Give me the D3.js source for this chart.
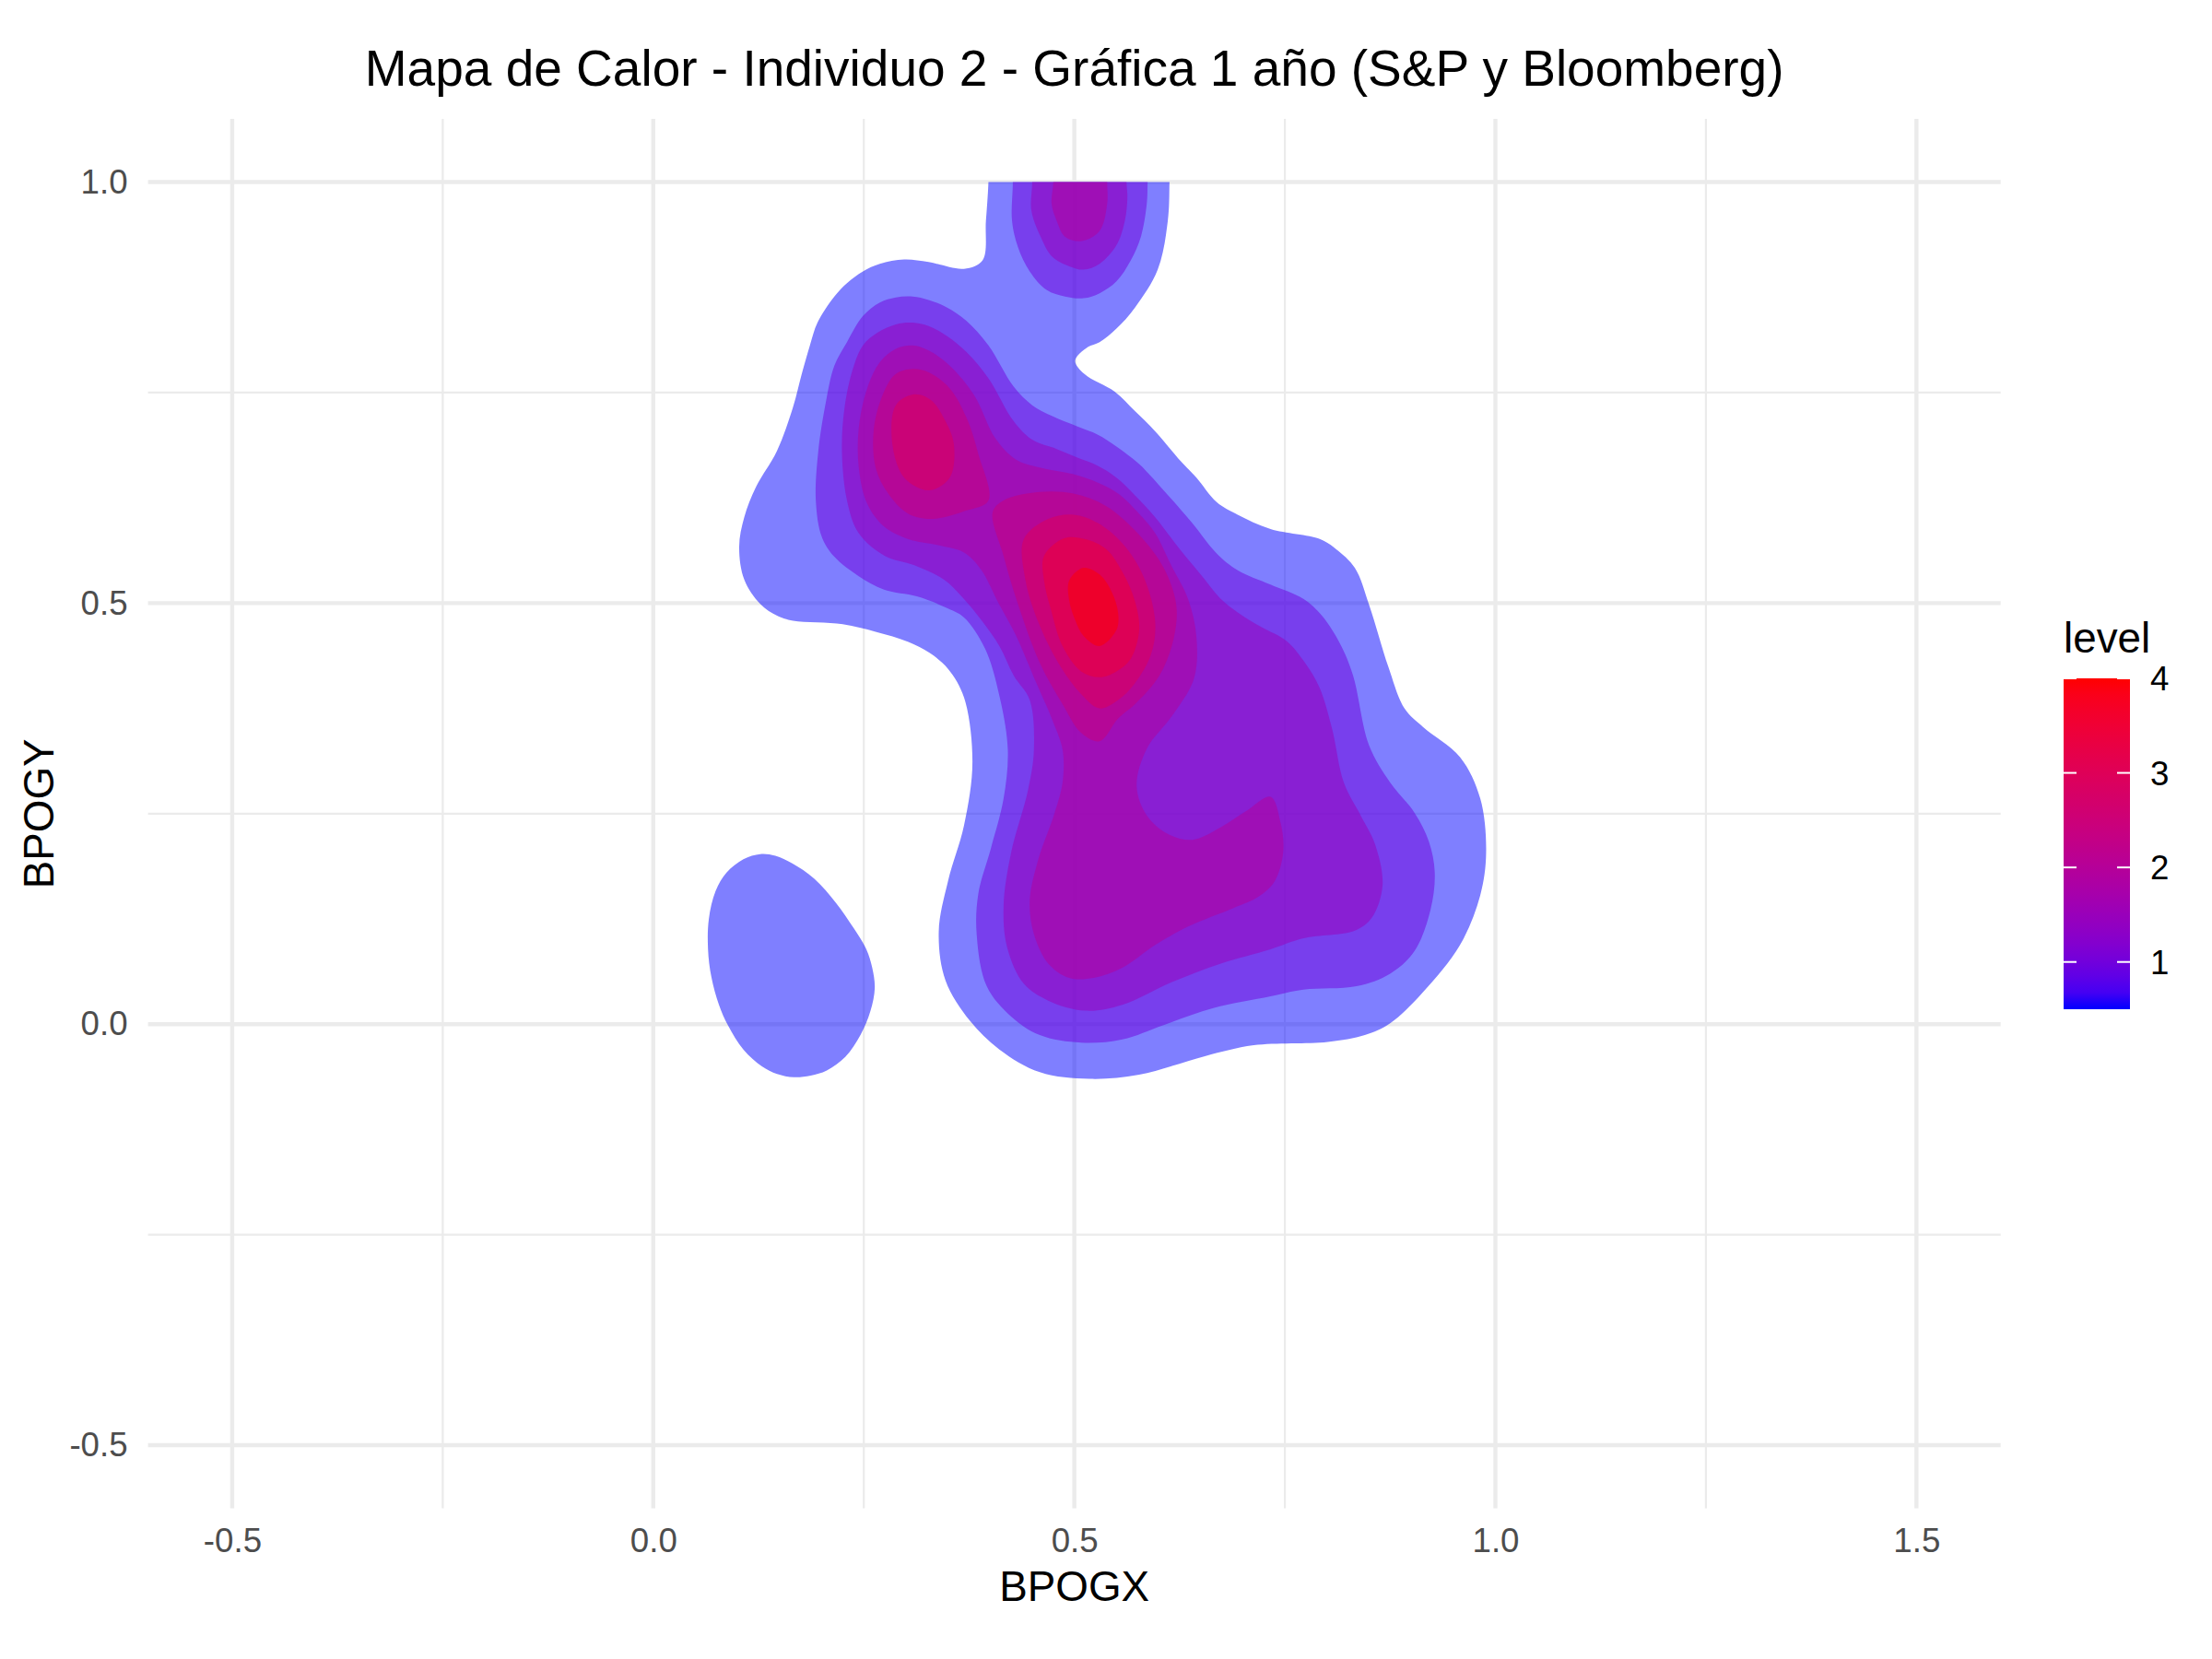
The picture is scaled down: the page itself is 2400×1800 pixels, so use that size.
<!DOCTYPE html>
<html>
<head>
<meta charset="utf-8">
<script src="https://cdn.jsdelivr.net/npm/d3@7"></script>
<style>
  body { margin: 0; background: #fff; }
  text { font-family: "Liberation Sans", Arial, Helvetica, sans-serif; }
</style>
</head>
<body>
<div id="chart"></div>
<script>
// density contours, one outline per level, [BPOGX, BPOGY]
const level05Main = [[0.399,1.06],[0.398,1.0],[0.395,0.954],[0.391,0.907],[0.369,0.897],[0.327,0.905],[0.298,0.908],[0.269,0.903],[0.249,0.894],[0.230,0.880],[0.215,0.864],[0.195,0.833],[0.186,0.806],[0.176,0.771],[0.166,0.733],[0.147,0.681],[0.122,0.638],[0.108,0.602],[0.102,0.567],[0.108,0.528],[0.127,0.499],[0.147,0.485],[0.166,0.479],[0.225,0.475],[0.264,0.466],[0.303,0.454],[0.328,0.441],[0.350,0.422],[0.369,0.388],[0.379,0.312],[0.369,0.236],[0.350,0.170],[0.339,0.110],[0.347,0.052],[0.376,0.004],[0.411,-0.030],[0.459,-0.057],[0.518,-0.065],[0.577,-0.060],[0.655,-0.038],[0.713,-0.025],[0.801,-0.021],[0.845,-0.013],[0.875,0.001],[0.914,0.038],[0.958,0.094],[0.982,0.153],[0.989,0.204],[0.982,0.268],[0.958,0.317],[0.914,0.353],[0.892,0.375],[0.873,0.424],[0.850,0.498],[0.833,0.542],[0.811,0.564],[0.792,0.576],[0.733,0.588],[0.694,0.605],[0.669,0.620],[0.645,0.649],[0.626,0.669],[0.596,0.704],[0.572,0.728],[0.548,0.751],[0.512,0.772],[0.501,0.788],[0.516,0.804],[0.530,0.810],[0.550,0.826],[0.572,0.851],[0.599,0.896],[0.611,0.954],[0.613,1.0],[0.613,1.06]];
const level05Blob = [[0.127,0.202],[0.107,0.196],[0.087,0.180],[0.074,0.158],[0.066,0.125],[0.065,0.089],[0.069,0.056],[0.078,0.023],[0.089,-0.002],[0.107,-0.030],[0.129,-0.050],[0.147,-0.059],[0.167,-0.063],[0.187,-0.061],[0.206,-0.055],[0.228,-0.039],[0.246,-0.013],[0.258,0.016],[0.263,0.043],[0.260,0.067],[0.253,0.089],[0.238,0.114],[0.217,0.144],[0.191,0.173],[0.165,0.191],[0.145,0.200]];
const level10Main = [[0.269,0.857],[0.288,0.863],[0.308,0.864],[0.327,0.860],[0.349,0.851],[0.372,0.835],[0.398,0.806],[0.428,0.757],[0.450,0.735],[0.474,0.722],[0.503,0.710],[0.528,0.700],[0.550,0.686],[0.577,0.665],[0.606,0.634],[0.640,0.595],[0.669,0.559],[0.694,0.539],[0.733,0.522],[0.772,0.505],[0.794,0.485],[0.816,0.451],[0.831,0.414],[0.850,0.331],[0.875,0.287],[0.904,0.251],[0.921,0.217],[0.928,0.180],[0.923,0.136],[0.904,0.087],[0.875,0.060],[0.835,0.045],[0.772,0.041],[0.733,0.033],[0.665,0.019],[0.606,-0.001],[0.557,-0.018],[0.508,-0.022],[0.459,-0.013],[0.425,0.009],[0.396,0.045],[0.384,0.107],[0.386,0.155],[0.401,0.209],[0.416,0.268],[0.421,0.326],[0.411,0.390],[0.394,0.446],[0.369,0.483],[0.347,0.495],[0.313,0.508],[0.274,0.516],[0.244,0.532],[0.215,0.555],[0.200,0.579],[0.193,0.622],[0.196,0.681],[0.205,0.739],[0.215,0.782],[0.230,0.810],[0.249,0.841]];
const level10Top = [[0.427,1.06],[0.427,1.0],[0.426,0.954],[0.433,0.923],[0.447,0.894],[0.467,0.872],[0.489,0.864],[0.511,0.862],[0.530,0.868],[0.550,0.882],[0.567,0.907],[0.579,0.935],[0.586,0.974],[0.587,1.0],[0.587,1.06]];
const level15Main = [[0.266,0.821],[0.288,0.831],[0.308,0.833],[0.327,0.829],[0.349,0.817],[0.372,0.798],[0.398,0.767],[0.428,0.716],[0.450,0.694],[0.479,0.683],[0.503,0.673],[0.528,0.663],[0.550,0.649],[0.572,0.628],[0.596,0.602],[0.626,0.563],[0.650,0.534],[0.673,0.506],[0.694,0.489],[0.723,0.471],[0.752,0.455],[0.774,0.429],[0.791,0.400],[0.806,0.351],[0.820,0.287],[0.840,0.248],[0.857,0.214],[0.866,0.165],[0.853,0.126],[0.833,0.111],[0.772,0.102],[0.733,0.089],[0.674,0.072],[0.616,0.050],[0.557,0.023],[0.513,0.016],[0.469,0.028],[0.440,0.048],[0.420,0.092],[0.416,0.141],[0.425,0.204],[0.445,0.278],[0.452,0.326],[0.447,0.385],[0.428,0.414],[0.411,0.449],[0.391,0.478],[0.367,0.507],[0.345,0.528],[0.310,0.545],[0.275,0.556],[0.244,0.583],[0.230,0.622],[0.224,0.681],[0.227,0.731],[0.237,0.778],[0.249,0.806]];
const level15Top = [[0.450,1.06],[0.450,1.0],[0.449,0.966],[0.460,0.935],[0.474,0.911],[0.494,0.900],[0.511,0.896],[0.530,0.903],[0.550,0.925],[0.560,0.954],[0.563,0.982],[0.562,1.0],[0.562,1.06]];
const level20Main = [[0.269,0.786],[0.288,0.802],[0.308,0.806],[0.327,0.800],[0.352,0.782],[0.381,0.747],[0.406,0.696],[0.430,0.671],[0.459,0.661],[0.499,0.653],[0.528,0.643],[0.552,0.630],[0.577,0.606],[0.596,0.583],[0.615,0.545],[0.635,0.505],[0.645,0.460],[0.642,0.410],[0.616,0.366],[0.586,0.327],[0.574,0.283],[0.586,0.248],[0.611,0.226],[0.640,0.219],[0.674,0.234],[0.704,0.253],[0.733,0.270],[0.745,0.239],[0.748,0.204],[0.738,0.170],[0.718,0.151],[0.689,0.138],[0.635,0.116],[0.596,0.094],[0.557,0.067],[0.523,0.055],[0.494,0.055],[0.469,0.072],[0.452,0.107],[0.447,0.146],[0.457,0.195],[0.476,0.249],[0.486,0.287],[0.486,0.326],[0.474,0.361],[0.455,0.405],[0.430,0.463],[0.410,0.500],[0.389,0.540],[0.369,0.560],[0.337,0.569],[0.303,0.576],[0.274,0.591],[0.254,0.618],[0.244,0.661],[0.244,0.708],[0.254,0.755]];
const level20Top = [[0.475,1.06],[0.475,1.0],[0.473,0.974],[0.479,0.954],[0.489,0.935],[0.509,0.930],[0.530,0.942],[0.539,0.974],[0.539,1.0],[0.539,1.06]];
const level25Left = [[0.288,0.772],[0.308,0.778],[0.327,0.774],[0.352,0.755],[0.372,0.720],[0.386,0.677],[0.398,0.622],[0.372,0.610],[0.332,0.600],[0.303,0.606],[0.279,0.630],[0.264,0.661],[0.262,0.708],[0.274,0.751]];
const level25Main = [[0.403,0.608],[0.416,0.622],[0.459,0.632],[0.499,0.630],[0.538,0.615],[0.577,0.581],[0.606,0.542],[0.621,0.498],[0.618,0.458],[0.601,0.414],[0.572,0.380],[0.552,0.363],[0.530,0.336],[0.508,0.346],[0.486,0.380],[0.459,0.429],[0.432,0.502],[0.416,0.556]];
const level30Left = [[0.288,0.735],[0.310,0.748],[0.330,0.741],[0.347,0.716],[0.357,0.688],[0.352,0.649],[0.327,0.634],[0.298,0.649],[0.284,0.688]];
const level30Main = [[0.440,0.576],[0.469,0.600],[0.499,0.605],[0.528,0.595],[0.557,0.571],[0.582,0.532],[0.596,0.478],[0.591,0.439],[0.572,0.405],[0.552,0.385],[0.530,0.375],[0.508,0.392],[0.484,0.424],[0.459,0.473],[0.442,0.527]];
const level35Main = [[0.464,0.556],[0.488,0.577],[0.513,0.576],[0.538,0.564],[0.557,0.537],[0.572,0.502],[0.577,0.468],[0.567,0.434],[0.550,0.419],[0.530,0.412],[0.508,0.419],[0.486,0.449],[0.472,0.493],[0.464,0.527]];
const level40Main = [[0.494,0.527],[0.511,0.542],[0.530,0.534],[0.545,0.512],[0.552,0.488],[0.550,0.468],[0.530,0.449],[0.511,0.461],[0.501,0.480],[0.494,0.503]];

const xTicks = [-0.5, 0, 0.5, 1, 1.5];
const yTicks = [-0.5, 0, 0.5, 1];
const xMinor = [-0.25, 0.25, 0.75, 1.25];
const yMinor = [-0.25, 0.25, 0.75];
const legendTicks = [1, 2, 3, 4];

const contours = [
    { level: 0.5, pts: level05Main }, { level: 0.5, pts: level05Blob },
    { level: 1, pts: level10Main }, { level: 1, pts: level10Top },
    { level: 1.5, pts: level15Main }, { level: 1.5, pts: level15Top },
    { level: 2, pts: level20Main }, { level: 2, pts: level20Top },
    { level: 2.5, pts: level25Left }, { level: 2.5, pts: level25Main },
    { level: 3, pts: level30Left }, { level: 3, pts: level30Main },
    { level: 3.5, pts: level35Main },
    { level: 4, pts: level40Main }
];

let width = 2400;
let height = 1800;
let panel = { left: 160.6, right: 2170.7, top: 129, bottom: 1636.6 };

let svg = d3.select('#chart')
    .append('svg')
    .attr('width', width)
    .attr('height', height)
    .style('background', '#fff');

let x = d3.scaleLinear().domain([-0.6, 1.6]).range([panel.left, panel.right]);
let y = d3.scaleLinear().domain([-0.575, 1.075]).range([panel.bottom, panel.top]);
let color = d3.scaleLinear().domain([0.5, 4]).range(['blue', 'red']).interpolate(d3.interpolateLab);
let fmt = d => d.toFixed(1); // plain hyphen for negatives, like R

// grid
let grid = svg.append('g');
grid.selectAll('line.xminor').data(xMinor).enter().append('line')
    .attr('x1', d => x(d)).attr('x2', d => x(d))
    .attr('y1', panel.top).attr('y2', panel.bottom)
    .attr('stroke', '#ebebeb').attr('stroke-width', 2.2);
grid.selectAll('line.yminor').data(yMinor).enter().append('line')
    .attr('y1', d => y(d)).attr('y2', d => y(d))
    .attr('x1', panel.left).attr('x2', panel.right)
    .attr('stroke', '#ebebeb').attr('stroke-width', 2.2);
grid.selectAll('line.xmajor').data(xTicks).enter().append('line')
    .attr('x1', d => x(d)).attr('x2', d => x(d))
    .attr('y1', panel.top).attr('y2', panel.bottom)
    .attr('stroke', '#ebebeb').attr('stroke-width', 4.4);
grid.selectAll('line.ymajor').data(yTicks).enter().append('line')
    .attr('y1', d => y(d)).attr('y2', d => y(d))
    .attr('x1', panel.left).attr('x2', panel.right)
    .attr('stroke', '#ebebeb').attr('stroke-width', 4.4);

// density polygons, cut at the y limit of 1
svg.append('clipPath').attr('id', 'clip')
    .append('rect')
    .attr('x', panel.left).attr('y', y(1))
    .attr('width', panel.right - panel.left).attr('height', panel.bottom - y(1));

let line = d3.line()
    .x(d => x(d[0]))
    .y(d => y(d[1]))
    .curve(d3.curveCatmullRomClosed.alpha(0.5));

svg.append('g').attr('clip-path', 'url(#clip)')
    .selectAll('path')
    .data(contours)
    .enter()
    .append('path')
    .attr('d', d => line(d.pts))
    .attr('fill', d => color(d.level))
    .attr('fill-opacity', 0.5);

// axes
let xAxis = svg.append('g')
    .attr('transform', 'translate(0,' + panel.bottom + ')')
    .call(d3.axisBottom(x).tickValues(xTicks).tickSize(0).tickPadding(21).tickFormat(fmt));
let yAxis = svg.append('g')
    .attr('transform', 'translate(' + panel.left + ',0)')
    .call(d3.axisLeft(y).tickValues(yTicks).tickSize(0).tickPadding(22).tickFormat(fmt));
[xAxis, yAxis].forEach(function (a) {
    a.select('.domain').remove();
    a.attr('font-family', null).attr('font-size', null);
    a.selectAll('text').attr('fill', '#4d4d4d').style('font-size', '36.7px');
});

svg.append('text')
    .attr('x', (panel.left + panel.right) / 2).attr('y', 1737)
    .attr('text-anchor', 'middle').style('font-size', '45.8px')
    .text('BPOGX');
svg.append('text')
    .attr('transform', 'translate(58,' + (panel.top + panel.bottom) / 2 + ') rotate(-90)')
    .attr('text-anchor', 'middle').style('font-size', '45.8px')
    .text('BPOGY');

svg.append('text')
    .attr('x', (panel.left + panel.right) / 2).attr('y', 93)
    .attr('text-anchor', 'middle').style('font-size', '55px')
    .text('Mapa de Calor - Individuo 2 - Gráfica 1 año (S&P y Bloomberg)');

// legend
let ly = d3.scaleLinear().domain([0.5, 4]).range([1095, 736]);
let grad = svg.append('defs').append('linearGradient')
    .attr('id', 'grad').attr('x1', 0).attr('y1', 1).attr('x2', 0).attr('y2', 0);
grad.selectAll('stop').data(d3.range(0, 1.0001, 0.05)).enter().append('stop')
    .attr('offset', d => d)
    .attr('stop-color', d => color(0.5 + d * 3.5));

let legend = svg.append('g');
legend.append('rect')
    .attr('x', 2239).attr('y', ly(4))
    .attr('width', 72).attr('height', ly(0.5) - ly(4))
    .attr('fill', 'url(#grad)');
legend.selectAll('line.tl').data(legendTicks).enter().append('line')
    .attr('x1', 2239).attr('x2', 2253)
    .attr('y1', d => ly(d)).attr('y2', d => ly(d))
    .attr('stroke', '#fff').attr('stroke-width', 2);
legend.selectAll('line.tr').data(legendTicks).enter().append('line')
    .attr('x1', 2297).attr('x2', 2311)
    .attr('y1', d => ly(d)).attr('y2', d => ly(d))
    .attr('stroke', '#fff').attr('stroke-width', 2);
legend.selectAll('text.lab').data(legendTicks).enter().append('text')
    .attr('x', 2333).attr('y', d => ly(d))
    .attr('dy', '0.36em')
    .style('font-size', '36.7px')
    .text(d => d);
legend.append('text')
    .attr('x', 2239).attr('y', 708)
    .style('font-size', '45.8px')
    .text('level');
</script>
</body>
</html>
